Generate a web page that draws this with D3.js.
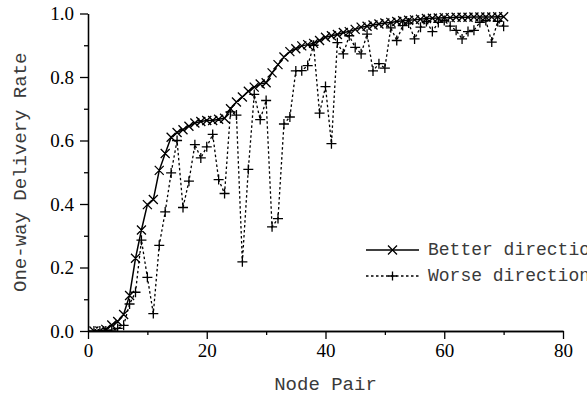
<!DOCTYPE html>
<html>
<head>
<meta charset="utf-8">
<script src="https://cdn.jsdelivr.net/npm/d3@7"></script>
<style>
  html, body { margin: 0; padding: 0; background: #fff; }
  svg { display: block; }
</style>
</head>
<body>
<svg id="chart" width="587" height="395"></svg>
<script>
// Node pair index along the x axis
const nodePairs = [
  1, 2, 3, 4, 5, 6, 7, 8, 9, 10,
  11, 12, 13, 14, 15, 16, 17, 18, 19, 20,
  21, 22, 23, 24, 25, 26, 27, 28, 29, 30,
  31, 32, 33, 34, 35, 36, 37, 38, 39, 40,
  41, 42, 43, 44, 45, 46, 47, 48, 49, 50,
  51, 52, 53, 54, 55, 56, 57, 58, 59, 60,
  61, 62, 63, 64, 65, 66, 67, 68, 69, 70
];

// Delivery rate in the better direction of each pair
const betterRate = [
  0.000, 0.000, 0.005, 0.019, 0.030, 0.052, 0.112, 0.229, 0.318, 0.398,
  0.414, 0.506, 0.559, 0.610, 0.625, 0.634, 0.645, 0.655, 0.660, 0.663,
  0.663, 0.667, 0.670, 0.700, 0.721, 0.737, 0.755, 0.768, 0.778, 0.782,
  0.813, 0.839, 0.863, 0.880, 0.889, 0.898, 0.902, 0.906, 0.915, 0.925,
  0.930, 0.934, 0.940, 0.943, 0.950, 0.957, 0.960, 0.964, 0.967, 0.970,
  0.972, 0.975, 0.977, 0.979, 0.980, 0.982, 0.984, 0.985, 0.986, 0.987,
  0.987, 0.988, 0.988, 0.988, 0.989, 0.989, 0.989, 0.989, 0.990, 0.990
];

// Delivery rate in the worse direction of each pair
const worseRate = [
  0.000, 0.000, 0.000, 0.003, 0.008, 0.018, 0.085, 0.122, 0.286, 0.169,
  0.055, 0.270, 0.375, 0.498, 0.600, 0.389, 0.472, 0.587, 0.545, 0.580,
  0.619, 0.477, 0.433, 0.690, 0.680, 0.218, 0.509, 0.745, 0.666, 0.726,
  0.328, 0.354, 0.652, 0.674, 0.819, 0.820, 0.836, 0.900, 0.686, 0.770,
  0.590, 0.908, 0.873, 0.930, 0.893, 0.873, 0.935, 0.819, 0.842, 0.828,
  0.955, 0.915, 0.962, 0.970, 0.920, 0.957, 0.975, 0.943, 0.972, 0.978,
  0.960, 0.947, 0.920, 0.943, 0.947, 0.972, 0.978, 0.910, 0.975, 0.960
];

const xTicks = [0, 20, 40, 60, 80];
const xMinorTicks = [10, 30, 50, 70];
const yTicks = [0.0, 0.2, 0.4, 0.6, 0.8, 1.0];
const yMinorTicks = [0.1, 0.3, 0.5, 0.7, 0.9];

const seriesNames = ["Better direction", "Worse direction"];

const svg = d3.select("#chart");
const plotLeft = 88, plotRight = 563, plotTop = 13.5, plotBottom = 331;

const x = d3.scaleLinear().domain([0, 80]).range([plotLeft, plotRight]);
const y = d3.scaleLinear().domain([0, 1]).range([plotBottom, plotTop]);

const serifFont = "'Liberation Serif', 'Times New Roman', serif";
const monoFont = "'Liberation Mono', 'Courier New', monospace";
const monoColor = "#3a3a3a";

// clip region for the plotted data
svg.append("defs").append("clipPath").attr("id", "plotClip")
  .append("rect")
  .attr("x", plotLeft).attr("y", plotTop - 6)
  .attr("width", plotRight - plotLeft + 6).attr("height", plotBottom - plotTop + 6);

// axes
const xAxis = d3.axisBottom(x).tickValues(xTicks).tickFormat(d3.format("d"))
  .tickSizeInner(8).tickSizeOuter(0).tickPadding(5);
const xAxisMinor = d3.axisBottom(x).tickValues(xMinorTicks).tickFormat("")
  .tickSizeInner(4).tickSizeOuter(0);
const yAxis = d3.axisLeft(y).tickValues(yTicks).tickFormat(d3.format(".1f"))
  .tickSizeInner(8).tickSizeOuter(0).tickPadding(6);
const yAxisMinor = d3.axisLeft(y).tickValues(yMinorTicks).tickFormat("")
  .tickSizeInner(4).tickSizeOuter(0);

function styleAxis(g) {
  g.select(".domain").attr("stroke", "#000").attr("stroke-width", 1.3);
  g.selectAll(".tick line").attr("stroke", "#000").attr("stroke-width", 1.3);
  g.selectAll(".tick text")
    .attr("fill", "#000")
    .style("font-family", serifFont)
    .style("font-size", "19px");
}

svg.append("g").attr("transform", `translate(0,${plotBottom})`).call(xAxisMinor).call(styleAxis);
svg.append("g").attr("transform", `translate(0,${plotBottom})`).call(xAxis).call(styleAxis);
svg.append("g").attr("transform", `translate(${plotLeft},0)`).call(yAxisMinor).call(styleAxis);
svg.append("g").attr("transform", `translate(${plotLeft},0)`).call(yAxis).call(styleAxis);

// axis titles
svg.append("text")
  .attr("x", (plotLeft + plotRight) / 2).attr("y", 390)
  .attr("text-anchor", "middle")
  .style("font-family", monoFont).style("font-size", "19px")
  .attr("fill", monoColor)
  .text("Node Pair");

svg.append("text")
  .attr("transform", `translate(26,${(plotTop + plotBottom) / 2}) rotate(-90)`)
  .attr("text-anchor", "middle")
  .style("font-family", monoFont).style("font-size", "19px")
  .attr("fill", monoColor)
  .text("One-way Delivery Rate");

// markers
function crossPath(cx, cy, r) {
  return `M${cx - r},${cy - r}L${cx + r},${cy + r}M${cx - r},${cy + r}L${cx + r},${cy - r}`;
}
function plusPath(cx, cy, r) {
  return `M${cx - r},${cy}L${cx + r},${cy}M${cx},${cy - r}L${cx},${cy + r}`;
}

const betterData = nodePairs.map((n, i) => ({ n, v: betterRate[i] }));
const worseData = nodePairs.map((n, i) => ({ n, v: worseRate[i] }));

const line = d3.line().x(d => x(d.n)).y(d => y(d.v));

const plot = svg.append("g").attr("clip-path", "url(#plotClip)");

plot.append("path").datum(worseData)
  .attr("d", line).attr("fill", "none")
  .attr("stroke", "#000").attr("stroke-width", 1.3)
  .attr("stroke-dasharray", "2.5,2.5");

plot.append("path").datum(betterData)
  .attr("d", line).attr("fill", "none")
  .attr("stroke", "#000").attr("stroke-width", 1.5);

plot.append("path")
  .attr("d", worseData.map(d => plusPath(x(d.n), y(d.v), 5)).join(""))
  .attr("fill", "none").attr("stroke", "#000").attr("stroke-width", 1.3);

plot.append("path")
  .attr("d", betterData.map(d => crossPath(x(d.n), y(d.v), 4.5)).join(""))
  .attr("fill", "none").attr("stroke", "#000").attr("stroke-width", 1.3);

// legend (its text runs past the right edge of the figure)
const legend = svg.append("g");
const legendRows = [
  { name: seriesNames[0], y: 250, dash: null, marker: crossPath },
  { name: seriesNames[1], y: 276, dash: "2.5,2.5", marker: plusPath }
];
legendRows.forEach(r => {
  legend.append("line")
    .attr("x1", 366).attr("x2", 419).attr("y1", r.y).attr("y2", r.y)
    .attr("stroke", "#000").attr("stroke-width", 1.3)
    .attr("stroke-dasharray", r.dash);
  legend.append("path")
    .attr("d", r.marker(392.5, r.y, 4.5))
    .attr("fill", "none").attr("stroke", "#000").attr("stroke-width", 1.3);
  legend.append("text")
    .attr("x", 428).attr("y", r.y + 5)
    .style("font-family", monoFont).style("font-size", "18px")
    .attr("fill", monoColor)
    .text(r.name);
});
</script>
</body>
</html>
